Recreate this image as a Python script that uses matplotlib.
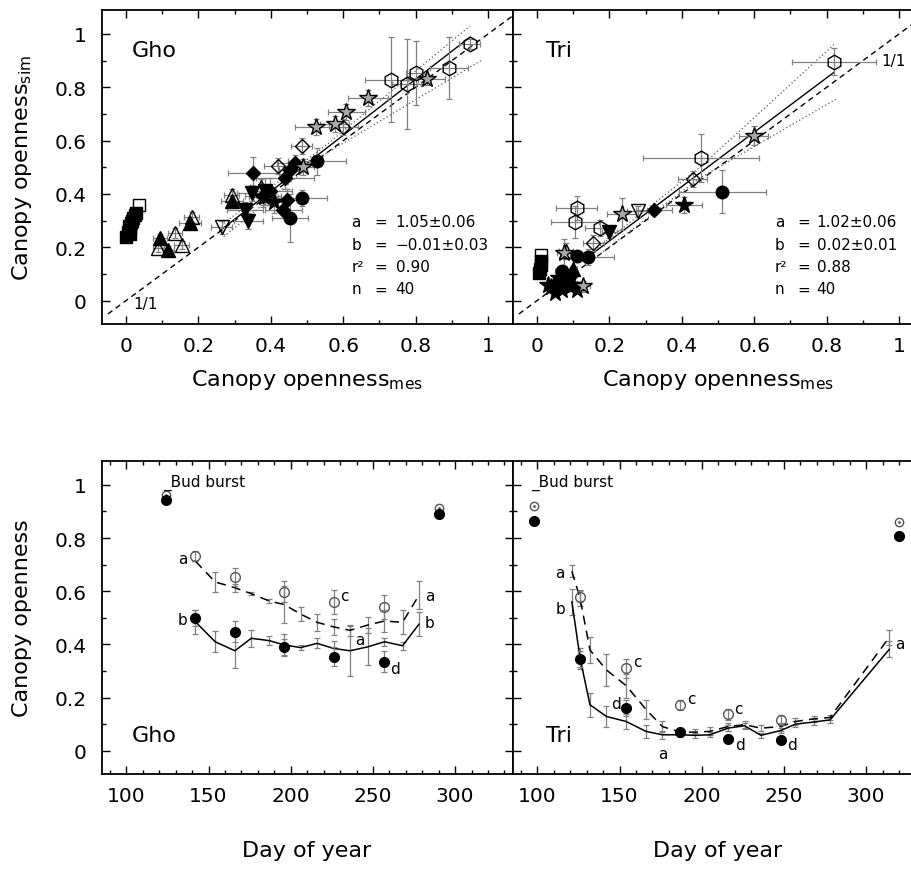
import matplotlib
matplotlib.use("Agg")
import matplotlib.pyplot as plt
from matplotlib.ticker import FixedLocator, MultipleLocator
import numpy as np

plt.rcParams['font.family'] = ['DejaVu Sans']
plt.rcParams['mathtext.default'] = 'regular'

# ---------------- data: top panels (x=measured, y=simulated, xerr, yerr) -------------
gho_sq_fill = [(0.000, 0.240), (0.012, 0.250), (0.005, 0.258), (0.010, 0.268), (0.008, 0.280),
               (0.015, 0.290), (0.018, 0.300), (0.020, 0.310), (0.025, 0.320), (0.028, 0.330)]
gho_sq_open = [(0.035, 0.360)]
gho_tup_fill = [(0.094, 0.234, 0.020, 0.015), (0.117, 0.191, 0.015, 0.015),
                (0.177, 0.291, 0.030, 0.020), (0.292, 0.374, 0.030, 0.020)]
gho_tup_open = [(0.089, 0.198, 0.015, 0.015), (0.135, 0.254, 0.020, 0.020),
                (0.154, 0.210, 0.020, 0.015), (0.181, 0.314, 0.020, 0.020),
                (0.292, 0.397, 0.020, 0.020), (0.372, 0.425, 0.030, 0.030)]
gho_tdn_open = [(0.264, 0.275, 0.030, 0.025)]
gho_tdn_fill = [(0.329, 0.341, 0.050, 0.030), (0.338, 0.298, 0.040, 0.030),
                (0.347, 0.404, 0.040, 0.030), (0.384, 0.410, 0.030, 0.050)]
gho_dia_fill = [(0.352, 0.479, 0.070, 0.060), (0.467, 0.516, 0.050, 0.030),
                (0.439, 0.460, 0.080, 0.040), (0.444, 0.379, 0.040, 0.040),
                (0.435, 0.341, 0.050, 0.030), (0.398, 0.410, 0.060, 0.050),
                (0.379, 0.391, 0.050, 0.040), (0.453, 0.491, 0.030, 0.030)]
gho_dia_open = [(0.421, 0.504, 0.040, 0.030), (0.485, 0.579, 0.030, 0.030),
                (0.600, 0.650, 0.040, 0.030)]
gho_circ_fill = [(0.527, 0.523, 0.080, 0.050), (0.485, 0.385, 0.070, 0.030),
                 (0.453, 0.310, 0.050, 0.090)]
gho_star_open = [(0.526, 0.650, 0.060, 0.030), (0.577, 0.663, 0.040, 0.030),
                 (0.609, 0.706, 0.050, 0.030), (0.669, 0.759, 0.055, 0.030),
                 (0.830, 0.830, 0.050, 0.020), (0.490, 0.500, 0.030, 0.030)]
gho_star_fill = [(0.380, 0.390, 0.040, 0.030), (0.410, 0.370, 0.040, 0.040)]
gho_hex_open = [(0.733, 0.829, 0.074, 0.160), (0.775, 0.812, 0.040, 0.170),
                (0.802, 0.854, 0.030, 0.120), (0.892, 0.872, 0.053, 0.115),
                (0.949, 0.962, 0.030, 0.020)]

tri_sq_fill = [(0.006, 0.105), (0.008, 0.120), (0.010, 0.135), (0.012, 0.150)]
tri_sq_open = [(0.012, 0.172)]
tri_tup_fill = [(0.060, 0.090, 0.010, 0.010), (0.100, 0.120, 0.010, 0.010),
                (0.050, 0.070, 0.010, 0.010)]
tri_tup_open = [(0.080, 0.185, 0.020, 0.030)]
tri_tdn_open = [(0.278, 0.335, 0.030, 0.020)]
tri_tdn_fill = [(0.200, 0.256, 0.020, 0.020)]
tri_dia_fill = [(0.324, 0.341, 0.050, 0.010)]
tri_dia_open = [(0.430, 0.456, 0.040, 0.030), (0.156, 0.216, 0.030, 0.030)]
tri_circ_fill = [(0.512, 0.409, 0.120, 0.080), (0.142, 0.165, 0.070, 0.030),
                 (0.110, 0.166, 0.020, 0.020), (0.090, 0.095, 0.020, 0.020),
                 (0.070, 0.110, 0.020, 0.020)]
tri_star_open = [(0.598, 0.619, 0.040, 0.035), (0.234, 0.325, 0.040, 0.060),
                 (0.075, 0.180, 0.020, 0.050), (0.126, 0.054, 0.020, 0.020)]
tri_star_fill = [(0.405, 0.360, 0.050, 0.030), (0.040, 0.050, 0.010, 0.010),
                 (0.050, 0.030, 0.010, 0.010), (0.060, 0.060, 0.010, 0.010),
                 (0.070, 0.040, 0.010, 0.010), (0.080, 0.070, 0.010, 0.010),
                 (0.090, 0.050, 0.010, 0.010), (0.060, 0.085, 0.010, 0.010),
                 (0.100, 0.060, 0.010, 0.010), (0.030, 0.060, 0.010, 0.010),
                 (0.110, 0.040, 0.010, 0.010)]
tri_hex_open = [(0.820, 0.896, 0.115, 0.050), (0.453, 0.535, 0.160, 0.090),
                (0.110, 0.346, 0.057, 0.045), (0.105, 0.296, 0.065, 0.060),
                (0.174, 0.271, 0.040, 0.030)]

# regression and confidence bands
gho_fit_x = [0.26, 0.95]
gho_fit_y = [0.263, 0.988]
gho_up_x = [0.27, 0.55, 0.95]
gho_up_y = [0.29, 0.58, 1.03]
gho_lo_x = [0.27, 0.55, 0.98]
gho_lo_y = [0.24, 0.55, 0.90]
tri_fit_x = [0.15, 0.82]
tri_fit_y = [0.173, 0.856]
tri_up_x = [0.15, 0.45, 0.82]
tri_up_y = [0.18, 0.50, 0.96]
tri_lo_x = [0.15, 0.45, 0.825]
tri_lo_y = [0.15, 0.46, 0.755]
one_x = [-0.05, 1.08]

stat_names = ['a', 'b', 'r²', 'n']
gho_stats = ['1.05±0.06', '−0.01±0.03', '0.90', '40']
tri_stats = ['1.02±0.06', '0.02±0.01', '0.88', '40']

# ---------------- data: bottom panels -----------------
gho_doy = [142, 154, 166, 176, 187, 196, 206, 216, 226, 236, 247, 257, 268, 278]
gho_dash = [0.713, 0.635, 0.613, 0.591, 0.563, 0.550, 0.514, 0.483, 0.466, 0.453, 0.473, 0.488, 0.483, 0.585]
gho_dash_err = [0.0, 0.038, 0.016, 0.007, 0.007, 0.070, 0.025, 0.033, 0.030, 0.020, 0.030, 0.040, 0.045, 0.053]
gho_solid = [0.485, 0.410, 0.376, 0.423, 0.414, 0.398, 0.388, 0.404, 0.385, 0.376, 0.391, 0.410, 0.395, 0.476]
gho_solid_err = [0.045, 0.040, 0.064, 0.033, 0.018, 0.040, 0.010, 0.019, 0.026, 0.093, 0.070, 0.015, 0.015, 0.045]
gho_obs_doy = [142, 166, 196, 226, 257]
gho_open = [0.733, 0.654, 0.598, 0.558, 0.541]
gho_open_err = [0.020, 0.035, 0.040, 0.045, 0.045]
gho_fill = [0.501, 0.448, 0.391, 0.354, 0.335]
gho_fill_err = [0.030, 0.040, 0.030, 0.035, 0.040]
gho_bud_doy = [124, 290]
gho_bud_open = [0.962, 0.912]
gho_bud_fill = [0.944, 0.891]
gho_letters = [('a', 134.4, 0.722), ('b', 134.4, 0.495), ('c', 232.4, 0.585), ('a', 241.7, 0.419),
               ('d', 263.4, 0.310), ('a', 284.3, 0.585), ('b', 284.3, 0.482)]

tri_doy = [121, 126, 132, 142, 154, 166, 176, 187, 196, 205, 216, 226, 236, 248, 257, 268, 278, 314]
tri_dash = [0.675, 0.573, 0.379, 0.304, 0.245, 0.156, 0.091, 0.070, 0.070, 0.073, 0.091, 0.098, 0.085, 0.091, 0.110, 0.120, 0.125, 0.426]
tri_dash_err = [0.022, 0.030, 0.050, 0.060, 0.045, 0.035, 0.020, 0.015, 0.010, 0.015, 0.015, 0.015, 0.010, 0.015, 0.015, 0.012, 0.010, 0.030]
tri_solid = [0.560, 0.348, 0.173, 0.129, 0.110, 0.073, 0.060, 0.060, 0.058, 0.060, 0.085, 0.094, 0.058, 0.076, 0.100, 0.108, 0.116, 0.381]
tri_solid_err = [0.050, 0.040, 0.045, 0.040, 0.028, 0.025, 0.015, 0.010, 0.010, 0.010, 0.010, 0.010, 0.010, 0.010, 0.010, 0.010, 0.010, 0.030]
tri_obs_doy = [126, 154, 187, 216, 248]
tri_open = [0.579, 0.310, 0.172, 0.137, 0.116]
tri_open_err = [0.020, 0.035, 0.020, 0.020, 0.020]
tri_fill = [0.344, 0.160, 0.072, 0.045, 0.041]
tri_fill_err = [0.030, 0.030, 0.010, 0.010, 0.010]
tri_bud_doy = [98, 320]
tri_bud_open = [0.922, 0.860]
tri_bud_fill = [0.866, 0.806]
tri_letters = [('a', 113.8, 0.672), ('b', 113.8, 0.535), ('c', 160.8, 0.335), ('d', 147.6, 0.179),
               ('c', 193.6, 0.197), ('a', 176.3, -0.009), ('c', 222.5, 0.160), ('d', 223.1, 0.022),
               ('d', 255.0, 0.022), ('a', 320.7, 0.404)]

# ---------------- figure -----------------
W, H = 912, 870
fig = plt.figure(figsize=(W / 100, H / 100), dpi=100)

def px_axes(x0, y0, x1, y1):
    return fig.add_axes([x0 / W, 1 - y1 / H, (x1 - x0) / W, (y1 - y0) / H])

axw = 411.0
ax_tl = px_axes(101.7, 10.7, 101.7 + axw, 325)
ax_tr = px_axes(512.7, 10.7, 512.7 + axw, 325)
ax_bl = px_axes(101.7, 461.7, 101.7 + axw, 775)
ax_br = px_axes(512.7, 461.7, 512.7 + axw, 775)

GRAY = '#808080'
TICKFS = 14.5

def style(ax, top, ylab):
    for s in ax.spines.values():
        s.set_linewidth(1.3)
    ax.tick_params(which='both', direction='in', top=True, right=True, width=1.0)
    ax.tick_params(which='major', length=6, labelsize=TICKFS)
    ax.tick_params(which='minor', length=3)
    ax.tick_params(axis='y', which='major', pad=11)
    ax.tick_params(axis='x', which='major', pad=9)
    ax.yaxis.set_major_locator(FixedLocator([0, 0.2, 0.4, 0.6, 0.8, 1.0]))
    ax.yaxis.set_minor_locator(MultipleLocator(0.1))
    ax.set_ylim(-0.0875, 1.091)
    if ylab:
        ax.set_yticklabels(['0', '0.2', '0.4', '0.6', '0.8', '1'])
    else:
        ax.set_yticklabels([])
    if top:
        ax.set_xlim(-0.067, 1.068)
        ax.xaxis.set_major_locator(FixedLocator([0, 0.2, 0.4, 0.6, 0.8, 1.0]))
        ax.xaxis.set_minor_locator(MultipleLocator(0.1))
        ax.set_xticklabels(['0', '0.2', '0.4', '0.6', '0.8', '1'])
    else:
        ax.set_xlim(85, 335)
        ax.xaxis.set_major_locator(FixedLocator([100, 150, 200, 250, 300]))
        ax.xaxis.set_minor_locator(MultipleLocator(10))

def group(ax, pts, marker, ms, face, edge='black', err=True, z=3):
    xs = [p[0] for p in pts]
    ys = [p[1] for p in pts]
    if err and len(pts[0]) > 2:
        xe = [p[2] for p in pts]
        ye = [p[3] for p in pts]
        ax.errorbar(xs, ys, xerr=xe, yerr=ye, fmt='none', ecolor=GRAY,
                    elinewidth=0.9, capsize=2, capthick=0.9, zorder=2)
    ax.plot(xs, ys, linestyle='none', marker=marker, markersize=ms,
            markerfacecolor=face, markeredgecolor=edge, markeredgewidth=1.0, zorder=z)

def top_panel(ax, d, fit, up, lo, name, stats, stx, sx_eq, sx_val, onelab):
    ax.plot(one_x, one_x, color='black', lw=1.0, ls=(0, (4, 3)), zorder=1)
    ax.plot(up[0], up[1], color='#555555', lw=0.9, ls=(0, (1, 2)), zorder=1)
    ax.plot(lo[0], lo[1], color='#555555', lw=0.9, ls=(0, (1, 2)), zorder=1)
    ax.plot(fit[0], fit[1], color='black', lw=1.0, zorder=1)
    for pts, mk, ms, face, z in d:
        group(ax, pts, mk, ms, face, z=z)
    ax.text(stx[0], 0.94, name, fontsize=16, ha='left', va='center')
    for i, (nm, val) in enumerate(zip(stat_names, stats)):
        yy = 0.296 - i * 0.084
        ax.text(stx[1], yy, nm, fontsize=11, ha='left', va='center')
        ax.text(sx_eq, yy, '=', fontsize=11, ha='left', va='center')
        ax.text(sx_val, yy, val, fontsize=11, ha='left', va='center')
    ax.text(onelab[0], onelab[1], '1/1', fontsize=11, ha='left', va='center')

LG = '#a8a8a8'
gho_groups = [
    (gho_sq_fill, 's', 9, 'black', 3), (gho_sq_open, 's', 9, 'none', 3),
    (gho_tup_open, '^', 10, 'none', 3), (gho_tup_fill, '^', 10, 'black', 4),
    (gho_tdn_open, 'v', 10, 'none', 3), (gho_tdn_fill, 'v', 10, 'black', 3),
    (gho_dia_fill, 'D', 7.5, 'black', 3), (gho_dia_open, 'D', 7.5, 'none', 3),
    (gho_circ_fill, 'o', 9, 'black', 3), (gho_star_fill, '*', 13, 'black', 3),
    (gho_star_open, '*', 13, LG, 3), (gho_hex_open, 'h', 10.5, 'none', 3),
]
tri_groups = [
    (tri_sq_fill, 's', 9, 'black', 3), (tri_sq_open, 's', 9, 'none', 3),
    (tri_star_fill, '*', 13, 'black', 3), (tri_tup_fill, '^', 10, 'black', 3),
    (tri_tup_open, '^', 10, 'none', 3),
    (tri_tdn_open, 'v', 10, 'none', 3), (tri_tdn_fill, 'v', 10, 'black', 3),
    (tri_dia_fill, 'D', 7.5, 'black', 3), (tri_dia_open, 'D', 7.5, 'none', 3),
    (tri_circ_fill, 'o', 9, 'black', 3), (tri_star_open, '*', 13, LG, 3),
    (tri_hex_open, 'h', 10.5, 'none', 3),
]

style(ax_tl, True, True)
style(ax_tr, True, False)
style(ax_bl, False, True)
style(ax_br, False, False)

top_panel(ax_tl, gho_groups, (gho_fit_x, gho_fit_y), (gho_up_x, gho_up_y), (gho_lo_x, gho_lo_y),
          'Gho', gho_stats, (0.016, 0.623), 0.687, 0.745, (0.02, -0.012))
top_panel(ax_tr, tri_groups, (tri_fit_x, tri_fit_y), (tri_up_x, tri_up_y), (tri_lo_x, tri_lo_y),
          'Tri', tri_stats, (0.025, 0.657), 0.718, 0.772, (0.95, 0.90))

def bottom_panel(ax, doy, dash, dash_err, solid, solid_err, odoy, op, op_err, fl, fl_err,
                 bdoy, bop, bfl, letters, name, name_x, bud_x):
    ax.errorbar(doy, dash, yerr=dash_err, fmt='none', ecolor=GRAY, elinewidth=0.9,
                capsize=2.5, capthick=0.9, zorder=2)
    ax.errorbar(doy, solid, yerr=solid_err, fmt='none', ecolor=GRAY, elinewidth=0.9,
                capsize=2.5, capthick=0.9, zorder=2)
    ax.plot(doy, dash, color='black', lw=1.1, ls=(0, (6, 4)), zorder=3)
    ax.plot(doy, solid, color='black', lw=1.1, zorder=3)
    ax.errorbar(odoy, op, yerr=op_err, fmt='none', ecolor=GRAY, elinewidth=0.9,
                capsize=2, capthick=0.9, zorder=4)
    ax.errorbar(odoy, fl, yerr=fl_err, fmt='none', ecolor=GRAY, elinewidth=0.9,
                capsize=2, capthick=0.9, zorder=4)
    ax.plot(odoy, op, linestyle='none', marker='o', markersize=7, markerfacecolor='none',
            markeredgecolor='#555555', markeredgewidth=1.0, zorder=5)
    ax.plot(odoy, fl, linestyle='none', marker='o', markersize=7, markerfacecolor='black',
            markeredgecolor='black', zorder=5)
    ax.plot(bdoy, bop, linestyle='none', marker='o', markersize=6, markerfacecolor='none',
            markeredgecolor='#555555', markeredgewidth=1.0, zorder=5)
    ax.plot(bdoy, bop, linestyle='none', marker='.', markersize=2, color='#555555', zorder=5)
    ax.plot(bdoy, bfl, linestyle='none', marker='o', markersize=7, markerfacecolor='black',
            markeredgecolor='black', zorder=5)
    for t, x, y in letters:
        ax.text(x, y, t, fontsize=11, ha='center', va='center')
    ax.text(bud_x, 1.012, '_Bud burst', fontsize=11, ha='left', va='center')
    ax.text(name_x, 0.0575, name, fontsize=16, ha='left', va='center')

bottom_panel(ax_bl, gho_doy, gho_dash, gho_dash_err, gho_solid, gho_solid_err,
             gho_obs_doy, gho_open, gho_open_err, gho_fill, gho_fill_err,
             gho_bud_doy, gho_bud_open, gho_bud_fill, gho_letters, 'Gho', 103.4, 122.3)
bottom_panel(ax_br, tri_doy, tri_dash, tri_dash_err, tri_solid, tri_solid_err,
             tri_obs_doy, tri_open, tri_open_err, tri_fill, tri_fill_err,
             tri_bud_doy, tri_bud_open, tri_bud_fill, tri_letters, 'Tri', 105.0, 96.0)

# axis labels
LABFS = 16
fig.text(307 / W, 1 - 386 / H, 'Canopy openness$_{mes}$', fontsize=LABFS, ha='center', va='baseline')
fig.text(718 / W, 1 - 386 / H, 'Canopy openness$_{mes}$', fontsize=LABFS, ha='center', va='baseline')
fig.text(307 / W, 1 - 857 / H, 'Day of year', fontsize=LABFS, ha='center', va='baseline')
fig.text(718 / W, 1 - 857 / H, 'Day of year', fontsize=LABFS, ha='center', va='baseline')
fig.text(22 / W, 1 - 168 / H, 'Canopy openness$_{sim}$', fontsize=LABFS, rotation=90,
         ha='center', va='center')
fig.text(22 / W, 1 - 618 / H, 'Canopy openness', fontsize=LABFS, rotation=90,
         ha='center', va='center')

fig.savefig('out.png', dpi=100)
